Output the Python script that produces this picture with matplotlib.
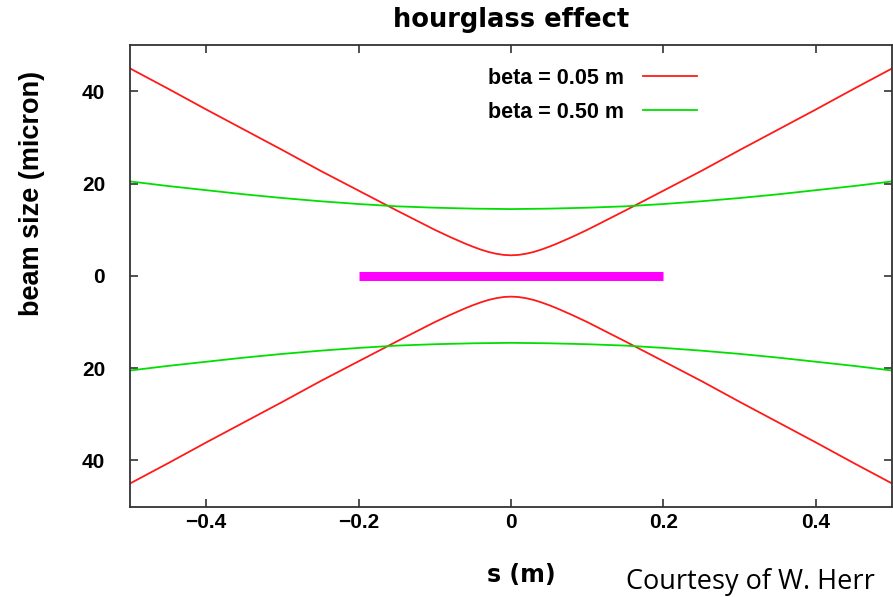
import numpy as np
import matplotlib
matplotlib.use("Agg")
import matplotlib.pyplot as plt

plt.rcParams["font.family"] = ["Liberation Sans", "DejaVu Sans"]

# beam envelope (upper half; lower half is mirrored)
s_red = [-0.5, -0.45, -0.4, -0.35, -0.3, -0.25, -0.2, -0.15, -0.125, -0.1, -0.08, -0.06,
         -0.05, -0.04, -0.03, -0.02, -0.01, 0.0, 0.01, 0.02, 0.03, 0.04, 0.05, 0.06,
         0.08, 0.1, 0.125, 0.15, 0.2, 0.25, 0.3, 0.35, 0.4, 0.45, 0.5]
size_red = [45.0, 40.6, 36.1, 31.7, 27.3, 22.8, 18.5, 14.2, 12.1, 10.0, 8.45, 7.0,
            6.34, 5.74, 5.22, 4.83, 4.57, 4.48, 4.57, 4.83, 5.22, 5.74, 6.34, 7.0,
            8.45, 10.0, 12.1, 14.2, 18.5, 22.8, 27.3, 31.7, 36.1, 40.6, 45.0]

s_green = [-0.5, -0.45, -0.4, -0.35, -0.3, -0.25, -0.2, -0.15, -0.1, -0.05, 0.0,
           0.05, 0.1, 0.15, 0.2, 0.25, 0.3, 0.35, 0.4, 0.45, 0.5]
size_green = [20.5, 19.5, 18.6, 17.7, 16.9, 16.2, 15.6, 15.1, 14.8, 14.6, 14.5,
              14.6, 14.8, 15.1, 15.6, 16.2, 16.9, 17.7, 18.6, 19.5, 20.5]

# luminous region marker
s_bar = [-0.2, 0.2]
y_bar = [0, 0]

x_ticks = [-0.4, -0.2, 0, 0.2, 0.4]
x_labels = ["\u22120.4", "\u22120.2", "0", "0.2", "0.4"]
y_ticks = [-40, -20, 0, 20, 40]
y_labels = ["40", "20", "0", "20", "40"]

fig = plt.figure(figsize=(8.93, 5.97), dpi=100)
ax = fig.add_axes([0.1456, 0.1515, 0.8534, 0.7725])

red = "#ff1a1a"
green = "#00e000"
ax.plot(s_red, size_red, color=red, lw=1.3, label="beta = 0.05 m")
ax.plot(s_green, size_green, color=green, lw=1.3, label="beta = 0.50 m")
ax.plot(s_red, -np.array(size_red), color=red, lw=1.3)
ax.plot(s_green, -np.array(size_green), color=green, lw=1.3)
ax.plot(s_bar, y_bar, color="#ff00ff", lw=6.5, solid_capstyle="butt")

ax.set_xlim(-0.5, 0.5)
ax.set_ylim(-50, 50)
ax.set_xticks(x_ticks)
ax.set_xticklabels(x_labels)
ax.set_yticks(y_ticks)
ax.set_yticklabels(y_labels)
ax.tick_params(direction="in", length=6, width=1.2, top=True, right=True,
               labelsize=15, color="#333333")
ax.tick_params(axis="x", pad=5)
ax.tick_params(axis="y", pad=18)
for lab in ax.get_xticklabels() + ax.get_yticklabels():
    lab.set_fontweight("bold")
for sp in ax.spines.values():
    sp.set_linewidth(1.3)
    sp.set_color("#333333")

ax.set_title("hourglass effect", fontsize=18.5, fontweight="bold", pad=13,
             family=["DejaVu Sans"])
ax.set_xlabel("s (m)", fontsize=17, fontweight="bold", family=["DejaVu Sans"])
ax.xaxis.set_label_coords(0.513, -0.122)
ax.set_ylabel("beam size (micron)", fontsize=19.5, fontweight="bold")
ax.yaxis.set_label_coords(-0.112, 0.68)

leg = ax.legend(loc="upper right", bbox_to_anchor=(0.744, 0.952), frameon=False,
                markerfirst=False, handlelength=2.5, fontsize=15.5, labelspacing=0.62,
                handletextpad=0.9, borderaxespad=0, borderpad=0)
for t in leg.get_texts():
    t.set_fontweight("bold")

fig.text(0.98, 0.0134, "Courtesy of W. Herr", fontsize=19.5, ha="right", va="baseline",
         family=["Open Sans", "DejaVu Sans"])

fig.savefig("out.png", dpi=100)
